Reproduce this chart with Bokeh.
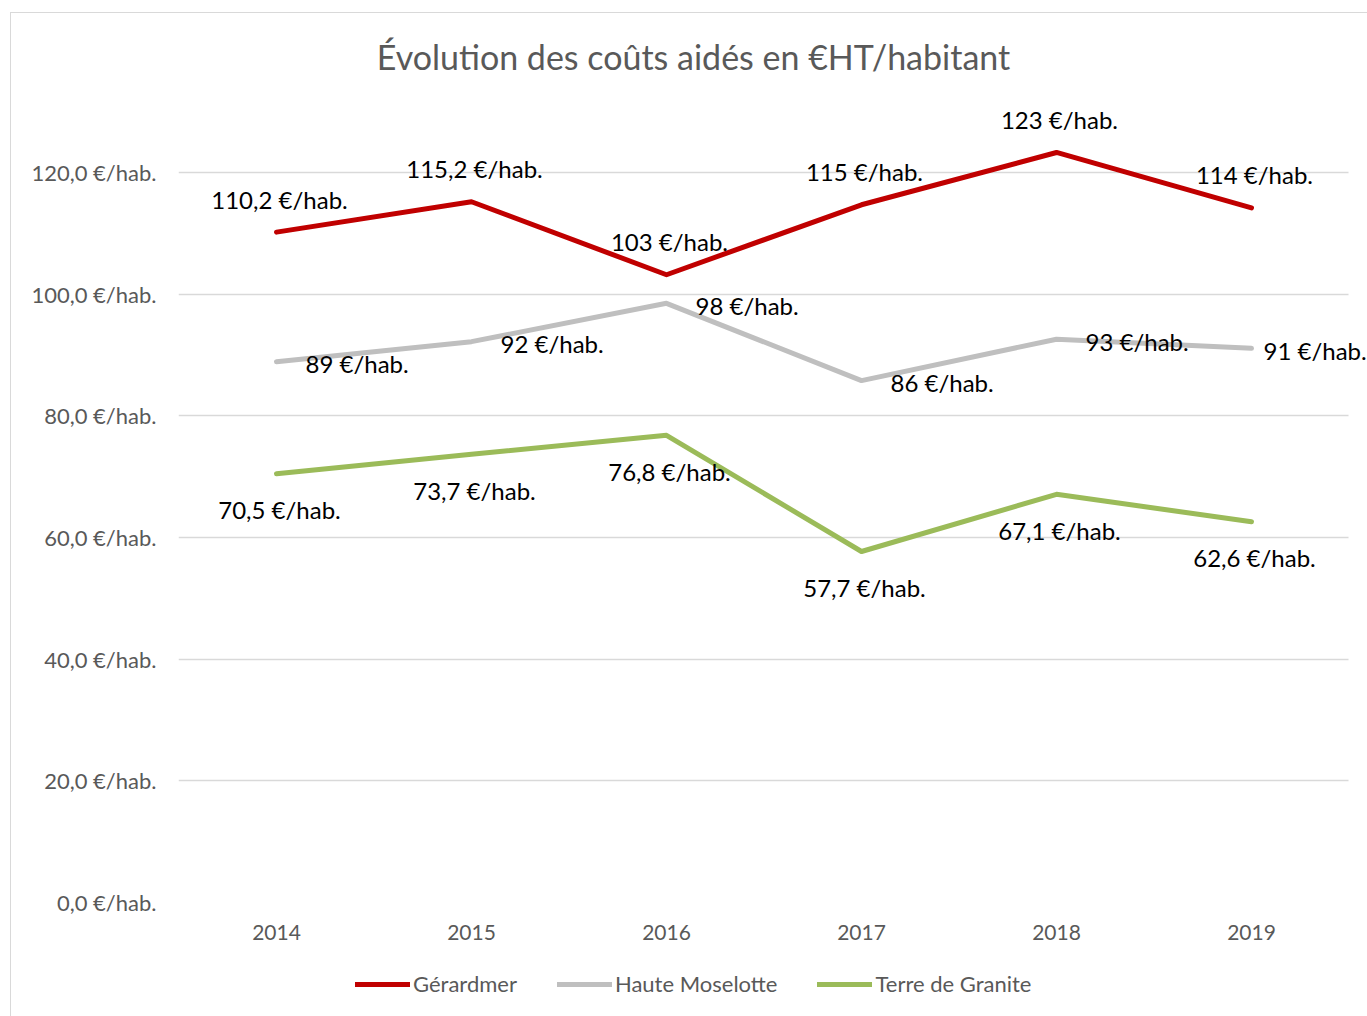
from bokeh.plotting import figure
from bokeh.layouts import column
from bokeh.models import (ColumnDataSource, Range1d, FixedTicker, LabelSet, Label,
                          Legend, LegendItem)
from bokeh.core.properties import value
from bokeh.embed import file_html
from bokeh.resources import INLINE

# ---- data ----
years = [2014, 2015, 2016, 2017, 2018, 2019]
year_labels = ["2014", "2015", "2016", "2017", "2018", "2019"]

gerardmer = [110.2, 115.2, 103.2, 114.7, 123.3, 114.2]
gerardmer_labels = ["110,2 €/hab.", "115,2 €/hab.", "103 €/hab.", "115 €/hab.", "123 €/hab.", "114 €/hab."]

haute_moselotte = [88.9, 92.2, 98.5, 85.8, 92.6, 91.1]
haute_moselotte_labels = ["89 €/hab.", "92 €/hab.", "98 €/hab.", "86 €/hab.", "93 €/hab.", "91 €/hab."]

terre_granite = [70.5, 73.7, 76.8, 57.7, 67.1, 62.6]
terre_granite_labels = ["70,5 €/hab.", "73,7 €/hab.", "76,8 €/hab.", "57,7 €/hab.", "67,1 €/hab.", "62,6 €/hab."]

y_ticks = [0, 20, 40, 60, 80, 100, 120]
y_tick_labels = ["0,0 €/hab.", "20,0 €/hab.", "40,0 €/hab.", "60,0 €/hab.",
                 "80,0 €/hab.", "100,0 €/hab.", "120,0 €/hab."]

series_names = ["Gérardmer", "Haute Moselotte", "Terre de Granite"]
title_text = "Évolution des coûts aidés en €HT/habitant"

# ---- styles / layout ----
FONT = "Lato"
GREY_TEXT = "#595959"
colors = ["#C00000", "#BFBFBF", "#9BBB59"]

OX, OY = 11, 13            # content origin on the page (inside the border)
W = 1367 - OX
H_MAIN = 950 - OY
H_LEG = 1016 - 950
FRAME_LEFT, GRID_RIGHT, FRAME_BOTTOM = 178, 1348, 902
PX_PER_YEAR = 195.0
PX_PER_UNIT = 6.083

x0 = years[0] - (276 - FRAME_LEFT) / PX_PER_YEAR
x1 = x0 + (1367 - FRAME_LEFT) / PX_PER_YEAR
y1 = (FRAME_BOTTOM - OY) / PX_PER_UNIT

p = figure(width=W, height=H_MAIN, output_backend="svg", toolbar_location=None,
           x_range=Range1d(x0, x1), y_range=Range1d(0, y1),
           min_border_left=FRAME_LEFT - OX, min_border_right=0, min_border_top=0,
           min_border_bottom=H_MAIN - (FRAME_BOTTOM - OY))
p.outline_line_color = None
p.background_fill_color = "white"
p.border_fill_color = "white"

# axes
p.xaxis.ticker = FixedTicker(ticks=years)
p.xaxis.major_label_overrides = {y: l for y, l in zip(years, year_labels)}
p.yaxis.ticker = FixedTicker(ticks=y_ticks)
p.yaxis.major_label_overrides = {t: l for t, l in zip(y_ticks, y_tick_labels)}
for ax in (p.xaxis[0], p.yaxis[0]):
    ax.axis_line_color = None
    ax.major_tick_line_color = None
    ax.minor_tick_line_color = None
    ax.major_tick_in = 0
    ax.major_tick_out = 0
    ax.minor_tick_in = 0
    ax.minor_tick_out = 0
    ax.major_label_text_font = FONT
    ax.major_label_text_color = GREY_TEXT
p.yaxis.major_label_text_font_size = "22px"
p.xaxis.major_label_text_font_size = "21px"
p.yaxis.major_label_standoff = 22
p.xaxis.major_label_standoff = 22

p.xgrid.grid_line_color = None
p.ygrid.ticker = FixedTicker(ticks=y_ticks)
p.ygrid.grid_line_color = "#D9D9D9"
p.ygrid.grid_line_width = 1.5
if "cross_bounds" in p.ygrid[0].properties():
    p.ygrid.cross_bounds = (x0, x0 + (GRID_RIGHT - FRAME_LEFT) / PX_PER_YEAR)

# lines
all_vals = [gerardmer, haute_moselotte, terre_granite]
all_labels = [gerardmer_labels, haute_moselotte_labels, terre_granite_labels]
for vals, c in zip(all_vals, colors):
    p.line(years, vals, line_color=c, line_width=5, line_join="round", line_cap="round")

# data labels (offsets are layout only)
label_style = [
    dict(align="center", xoff=[3] * 6, yoff=[33] * 6),
    dict(align="left", xoff=[29, 29, 29, 29, 29, 12], yoff=[-2] * 6),
    dict(align="center", xoff=[3] * 6, yoff=[-36] * 6),
]
for vals, labs, st in zip(all_vals, all_labels, label_style):
    src = ColumnDataSource(dict(x=years, y=vals, t=labs, xo=st["xoff"], yo=st["yoff"]))
    ls = LabelSet(x="x", y="y", text="t", source=src, x_offset="xo", y_offset="yo",
                  text_align=st["align"], text_baseline="middle",
                  text_font=value(FONT), text_font_size="24px", text_color="black")
    p.add_layout(ls)

# title
title = Label(x=years[0] + (693 - 276) / PX_PER_YEAR, y=(FRAME_BOTTOM - 56) / PX_PER_UNIT,
              text=title_text, text_align="center", text_baseline="middle", text_font=FONT,
              text_font_size="34px", text_color=GREY_TEXT)
p.add_layout(title)

# legend strip (its series sit outside this strip's visible range; only the legend shows)
pl = figure(width=W, height=H_LEG, output_backend="svg", toolbar_location=None,
            x_range=Range1d(0, 1), y_range=Range1d(0, 1),
            min_border_left=0, min_border_right=0, min_border_top=0, min_border_bottom=0)
pl.outline_line_color = None
pl.axis.visible = False
pl.grid.visible = False
leg_renderers = [pl.line(years, vals, line_color=c, line_width=5, line_cap="round")
                 for vals, c in zip(all_vals, colors)]
legend = Legend(items=[LegendItem(label=n, renderers=[r]) for n, r in zip(series_names, leg_renderers)],
                orientation="horizontal", location=(355 - FRAME_LEFT, (1016 - 985) - 12))
legend.glyph_width = 55
legend.glyph_height = 20
legend.label_height = 20
legend.label_standoff = 3
legend.spacing = 40
legend.padding = 0
legend.margin = 0
legend.border_line_color = None
legend.background_fill_alpha = 0
legend.label_text_font = FONT
legend.label_text_font_size = "22px"
legend.label_text_color = GREY_TEXT
pl.add_layout(legend)

layout = column(p, pl, spacing=0, margin=(OY - 1, 0, 0, OX - 1),
                styles={"border-left": "1px solid #D9D9D9", "border-top": "1px solid #D9D9D9"})

open("out.html", "w").write(file_html(layout, INLINE))
